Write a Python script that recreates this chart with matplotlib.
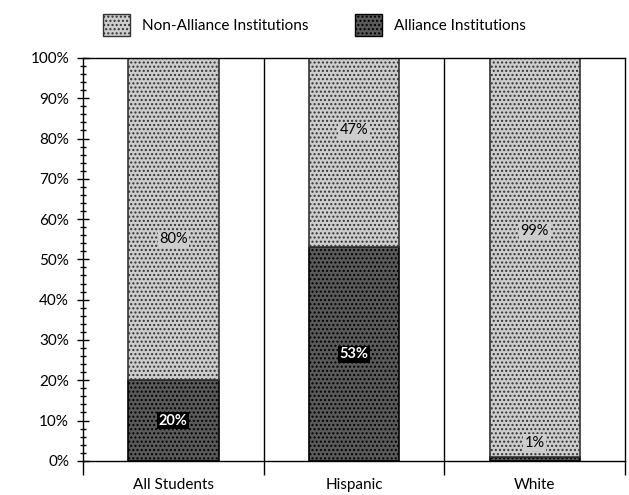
import matplotlib.pyplot as plt
from matplotlib.patches import Patch
from matplotlib.ticker import MultipleLocator, FuncFormatter

categories = ['All Students', 'Hispanic', 'White']
alliance = [20, 53, 1]
non_alliance = [80, 47, 99]

plt.rcParams['font.family'] = ['Lato', 'DejaVu Sans']

fig = plt.figure(figsize=(6.29, 4.95), dpi=100)
ax = fig.add_axes([0.132, 0.069, 0.862, 0.814])

x = range(len(categories))
dark = '#5a5a5a'
light = '#cdcdcd'
ax.bar(x, alliance, width=0.5, color=dark, edgecolor='black', linewidth=1.2, hatch='....')
ax.bar(x, non_alliance, width=0.5, bottom=alliance, color=light, edgecolor='#333333', linewidth=1.2, hatch='....')
plt.rcParams['hatch.color'] = '#888888'

# text labels
label_y_non = [55, 82, 57]
for i in x:
    ax.text(i, label_y_non[i], f'{non_alliance[i]}%', ha='center', va='center', fontsize=10.5,
            bbox=dict(boxstyle='square,pad=0.1', fc=light, ec='none'))
    if alliance[i] > 5:
        ax.text(i, alliance[i] / 2, f'{alliance[i]}%', ha='center', va='center', fontsize=10.5,
                color='white', fontweight='bold',
                bbox=dict(boxstyle='square,pad=0.1', fc='black', ec='none'))
    else:
        ax.text(i, 4.5, f'{alliance[i]}%', ha='center', va='center', fontsize=10.5,
                bbox=dict(boxstyle='square,pad=0.1', fc=light, ec='none'))

ax.set_xlim(-0.5, 2.5)
ax.set_ylim(0, 100)
for sep in [0.5, 1.5]:
    ax.axvline(sep, color='black', linewidth=1)
ax.set_xticks([-0.5, 0.5, 1.5, 2.5])
ax.set_xticklabels([])
ax.set_xticks(list(x), minor=True)
ax.set_xticklabels(categories, minor=True, fontsize=11)
ax.tick_params(axis='x', which='major', direction='out', length=10, width=1)
ax.tick_params(axis='x', which='minor', length=0, pad=12)

ax.yaxis.set_major_locator(MultipleLocator(10))
ax.yaxis.set_minor_locator(MultipleLocator(2))
ax.yaxis.set_major_formatter(FuncFormatter(lambda v, p: f'{int(v)}%'))
ax.tick_params(axis='y', which='major', direction='inout', length=8, width=1, labelsize=11, pad=6)
ax.tick_params(axis='y', which='minor', direction='inout', length=4, width=1)

for s in ax.spines.values():
    s.set_linewidth(1)

handles = [Patch(facecolor=light, edgecolor='#333333', hatch='....', label='Non-Alliance Institutions'),
           Patch(facecolor=dark, edgecolor='black', hatch='....', label='Alliance Institutions')]
fig.legend(handles=handles, loc='center', bbox_to_anchor=(0.5, 0.95), ncol=2, frameon=False,
           fontsize=11, handlelength=1.8, handleheight=1.8, columnspacing=3)

fig.savefig('out.png', dpi=100)
